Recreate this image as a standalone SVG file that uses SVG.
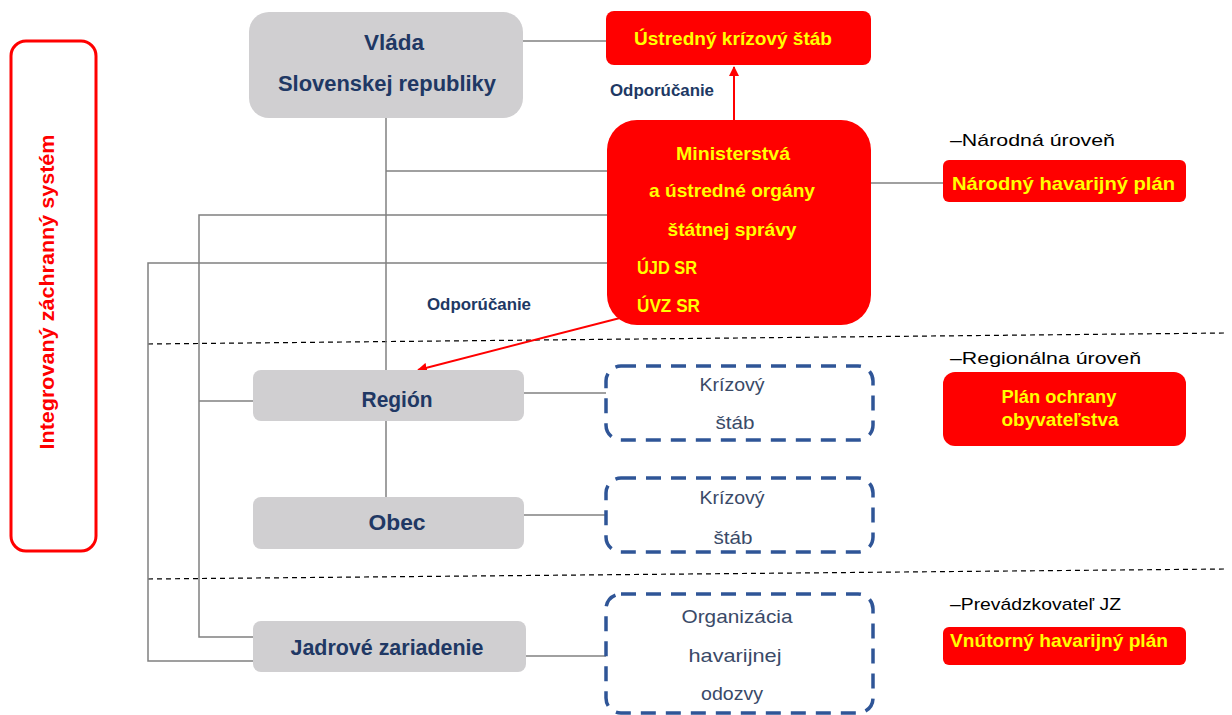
<svg xmlns="http://www.w3.org/2000/svg" width="1232" height="715" viewBox="0 0 1232 715">
  <style>
    .gray { fill: #d0cfd1; }
    .red { fill: #ff0000; }
    .frame { fill: none; stroke: #ff0000; stroke-width: 3; }
    .dash { fill: none; stroke: #2f5597; stroke-width: 3.5; stroke-dasharray: 15 10; }
    .wire { fill: none; stroke: #808080; stroke-width: 1.5; }
    .level { fill: none; stroke: #000; stroke-width: 1.2; stroke-dasharray: 5 4; }
    .arrow { fill: none; stroke: #ff0000; stroke-width: 2; marker-end: url(#redhead); }
    .navy { font-family: "Liberation Sans", Arial, sans-serif; font-weight: bold; fill: #203864; }
    .yel { font-family: "Liberation Sans", Arial, sans-serif; font-weight: bold; fill: #ffff00; }
    .slate { font-family: "Liberation Sans", Arial, sans-serif; fill: #3a4a68; font-size: 19px; }
    .note { font-family: "Liberation Sans", Arial, sans-serif; fill: #000; font-size: 17px; }
  </style>
  <defs>
    <marker id="redhead" viewBox="0 0 10 10" refX="9" refY="5" markerWidth="5" markerHeight="5" orient="auto-start-reverse">
      <path d="M0,0 L10,5 L0,10 z" fill="#ff0000"/>
    </marker>
  </defs>
  <rect width="1232" height="715" fill="#fff"/>

  <!-- level separators -->
  <g id="levels">
    <line class="level" x1="148" y1="344" x2="1226" y2="333"/>
    <line class="level" x1="148" y1="579" x2="1226" y2="569"/>
  </g>

  <!-- connectors -->
  <g id="connectors">
    <line class="wire" x1="515" y1="41" x2="606" y2="41"/>
    <line class="wire" x1="386" y1="118" x2="386" y2="370"/>
    <line class="wire" x1="386" y1="171" x2="607" y2="171"/>
    <polyline class="wire" points="607,215 199,215 199,637 253,637"/>
    <polyline class="wire" points="607,263 148,263 148,661 253,661"/>
    <line class="wire" x1="871" y1="183" x2="943" y2="183"/>
    <line class="wire" x1="199" y1="401" x2="253" y2="401"/>
    <line class="wire" x1="524" y1="393" x2="606" y2="393"/>
    <line class="wire" x1="386" y1="421" x2="386" y2="497"/>
    <line class="wire" x1="524" y1="515" x2="606" y2="515"/>
    <line class="wire" x1="526" y1="656" x2="606" y2="656"/>
    <line class="arrow" x1="734" y1="120" x2="734" y2="67"/>
    <line class="arrow" x1="620" y1="318" x2="418" y2="370"/>
    <text class="navy" x="610" y="96" font-size="16" textLength="104" lengthAdjust="spacingAndGlyphs">Odporúčanie</text>
    <text class="navy" x="427" y="310" font-size="16" textLength="104" lengthAdjust="spacingAndGlyphs">Odporúčanie</text>
  </g>

  <g id="izs">
    <rect class="frame" x="11" y="41" width="85" height="510" rx="15"/>
    <text transform="translate(54,292) rotate(-90)" text-anchor="middle" font-family="Liberation Sans, Arial, sans-serif" font-weight="bold" font-size="20" fill="#ff0000" textLength="315" lengthAdjust="spacingAndGlyphs">Integrovaný záchranný systém</text>
  </g>

  <g id="vlada">
    <rect class="gray" x="249" y="12" width="274" height="106" rx="20"/>
    <text class="navy" x="394" y="50" font-size="22" text-anchor="middle" textLength="60" lengthAdjust="spacingAndGlyphs">Vláda</text>
    <text class="navy" x="387" y="91" font-size="22" text-anchor="middle" textLength="218" lengthAdjust="spacingAndGlyphs">Slovenskej republiky</text>
  </g>

  <g id="ustredny-stab">
    <rect class="red" x="606" y="11" width="265" height="54" rx="8"/>
    <text class="yel" x="634" y="45" font-size="19" textLength="198" lengthAdjust="spacingAndGlyphs">Ústredný krízový štáb</text>
  </g>

  <g id="ministerstva">
    <rect class="red" x="607" y="120" width="264" height="205" rx="30"/>
    <text class="yel" x="733" y="160" font-size="19" text-anchor="middle" textLength="114" lengthAdjust="spacingAndGlyphs">Ministerstvá</text>
    <text class="yel" x="732" y="197" font-size="19" text-anchor="middle" textLength="166" lengthAdjust="spacingAndGlyphs">a ústredné orgány</text>
    <text class="yel" x="732" y="236" font-size="19" text-anchor="middle" textLength="129" lengthAdjust="spacingAndGlyphs">štátnej správy</text>
    <text class="yel" x="637" y="274" font-size="19" textLength="60" lengthAdjust="spacingAndGlyphs">ÚJD SR</text>
    <text class="yel" x="637" y="312" font-size="19" textLength="63" lengthAdjust="spacingAndGlyphs">ÚVZ SR</text>
  </g>

  <g id="narodna-uroven">
    <text class="note" x="950" y="146" textLength="165" lengthAdjust="spacingAndGlyphs">–Národná  úroveň</text>
  </g>

  <g id="narodny-plan">
    <rect class="red" x="943" y="160" width="243" height="42" rx="6"/>
    <text class="yel" x="952" y="190" font-size="19" textLength="223" lengthAdjust="spacingAndGlyphs">Národný havarijný plán</text>
  </g>

  <g id="region">
    <rect class="gray" x="253" y="370" width="271" height="51" rx="8"/>
    <text class="navy" x="397" y="407" font-size="22" text-anchor="middle" textLength="71" lengthAdjust="spacingAndGlyphs">Región</text>
  </g>

  <g id="obec">
    <rect class="gray" x="253" y="497" width="271" height="52" rx="8"/>
    <text class="navy" x="397" y="530" font-size="22" text-anchor="middle" textLength="57" lengthAdjust="spacingAndGlyphs">Obec</text>
  </g>

  <g id="jadrove-zariadenie">
    <rect class="gray" x="253" y="621" width="273" height="51" rx="8"/>
    <text class="navy" x="387" y="655" font-size="22" text-anchor="middle" textLength="193" lengthAdjust="spacingAndGlyphs">Jadrové zariadenie</text>
  </g>

  <g id="krizovy-stab-region">
    <rect class="dash" x="606" y="366" width="267" height="74" rx="15"/>
    <text class="slate" x="732" y="391" text-anchor="middle" textLength="65" lengthAdjust="spacingAndGlyphs">Krízový</text>
    <text class="slate" x="735" y="429" text-anchor="middle" textLength="39" lengthAdjust="spacingAndGlyphs">štáb</text>
  </g>

  <g id="krizovy-stab-obec">
    <rect class="dash" x="606" y="478" width="267" height="74" rx="15"/>
    <text class="slate" x="732" y="504" text-anchor="middle" textLength="65" lengthAdjust="spacingAndGlyphs">Krízový</text>
    <text class="slate" x="733" y="544" text-anchor="middle" textLength="39" lengthAdjust="spacingAndGlyphs">štáb</text>
  </g>

  <g id="organizacia">
    <rect class="dash" x="606" y="594" width="267" height="119" rx="15"/>
    <text class="slate" x="737" y="623" text-anchor="middle" textLength="111" lengthAdjust="spacingAndGlyphs">Organizácia</text>
    <text class="slate" x="735" y="662" text-anchor="middle" textLength="93" lengthAdjust="spacingAndGlyphs">havarijnej</text>
    <text class="slate" x="732" y="700" text-anchor="middle" textLength="62" lengthAdjust="spacingAndGlyphs">odozvy</text>
  </g>

  <g id="regionalna-uroven">
    <text class="note" x="950" y="364" textLength="191" lengthAdjust="spacingAndGlyphs">–Regionálna úroveň</text>
  </g>

  <g id="plan-ochrany">
    <rect class="red" x="943" y="372" width="243" height="74" rx="12"/>
    <text class="yel" x="1059" y="403" font-size="19" text-anchor="middle" textLength="115" lengthAdjust="spacingAndGlyphs">Plán ochrany</text>
    <text class="yel" x="1060" y="426" font-size="19" text-anchor="middle" textLength="117" lengthAdjust="spacingAndGlyphs">obyvateľstva</text>
  </g>

  <g id="prevadzkovatel">
    <text class="note" x="950" y="610" textLength="171" lengthAdjust="spacingAndGlyphs">–Prevádzkovateľ JZ</text>
  </g>

  <g id="vnutorny-plan">
    <rect class="red" x="943" y="627" width="243" height="38" rx="6"/>
    <text class="yel" x="950" y="647" font-size="19" textLength="218" lengthAdjust="spacingAndGlyphs">Vnútorný havarijný plán</text>
  </g>
</svg>
